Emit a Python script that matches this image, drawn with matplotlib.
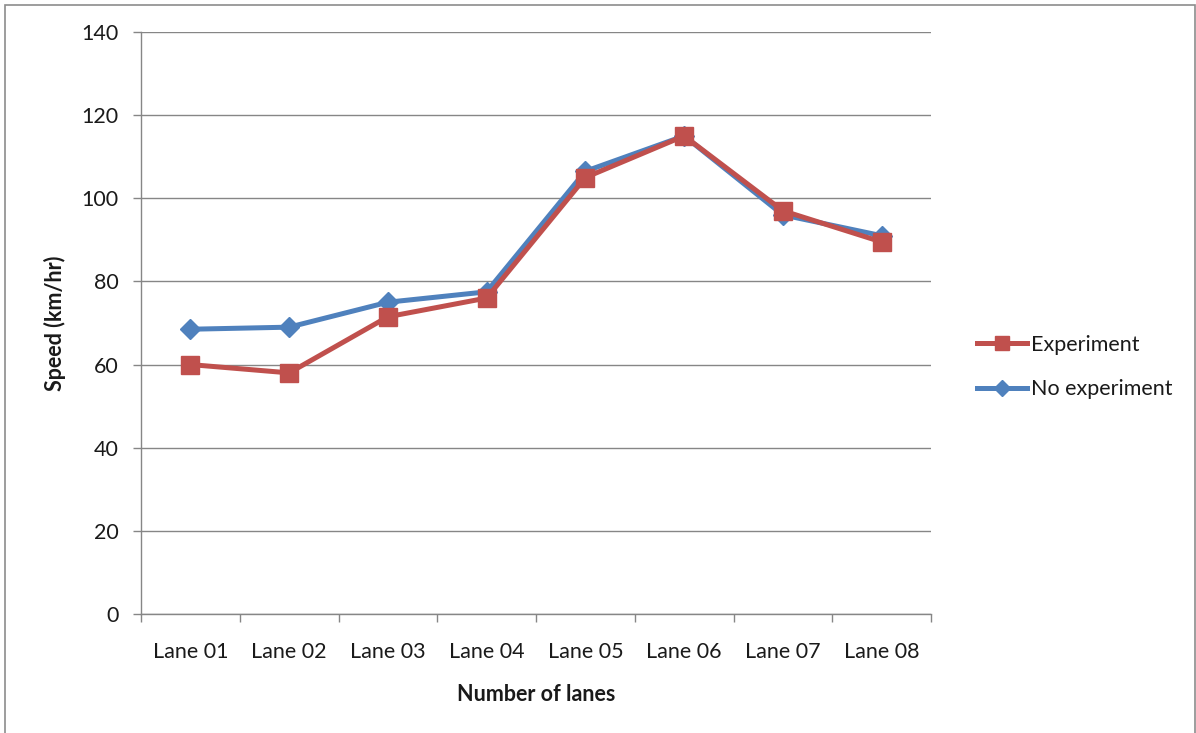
import matplotlib
matplotlib.use("Agg")
import matplotlib.pyplot as plt
from matplotlib.patches import Rectangle
from matplotlib.ticker import FixedLocator, NullFormatter

lanes = ["Lane 01", "Lane 02", "Lane 03", "Lane 04",
         "Lane 05", "Lane 06", "Lane 07", "Lane 08"]
experiment = [60, 58, 71.5, 76, 105, 115, 97, 89.5]
no_experiment = [68.5, 69, 75, 77.5, 106.5, 115, 96, 91]
y_ticks = [0, 20, 40, 60, 80, 100, 120, 140]

RED = "#C0504D"
BLUE = "#4F81BD"
GRID = "#868686"
TEXT = "#1a1a1a"

plt.rcParams["font.family"] = ["Lato", "DejaVu Sans"]

W, H = 1196, 733
fig = plt.figure(figsize=(W / 100, H / 100), dpi=100)
fig.patches.append(Rectangle((5 / W, -0.01), (1195 - 5) / W, (H - 5) / H + 0.01,
                             transform=fig.transFigure, fill=False,
                             edgecolor="#8c8c8c", linewidth=1.2))

ax = fig.add_axes([141 / W, (H - 614) / H, (931 - 141) / W, (614 - 32) / H])

x = list(range(len(lanes)))
h_no, = ax.plot(x, no_experiment, color=BLUE, linewidth=3.6, marker="D",
                markersize=10, markerfacecolor=BLUE, markeredgecolor=BLUE,
                zorder=3, label="No experiment")
h_ex, = ax.plot(x, experiment, color=RED, linewidth=3.6, marker="s",
                markersize=13, markerfacecolor=RED, markeredgecolor=RED,
                zorder=4, label="Experiment")

ax.set_xlim(-0.5, len(lanes) - 0.5)
ax.set_ylim(0, 140)
ax.set_yticks(y_ticks)
ax.yaxis.grid(True, color=GRID, linewidth=1.0)
ax.set_axisbelow(True)

# category boundaries carry the tick marks, labels sit at the centres
ax.xaxis.set_major_locator(FixedLocator([i - 0.5 for i in range(len(lanes) + 1)]))
ax.xaxis.set_major_formatter(NullFormatter())
ax.xaxis.set_minor_locator(FixedLocator(x))
ax.set_xticklabels(lanes, minor=True)
ax.tick_params(axis="x", which="major", length=6, width=1, color=GRID, direction="out")
ax.tick_params(axis="x", which="minor", length=0, pad=20, labelsize=15.5, labelcolor=TEXT)
ax.tick_params(axis="y", length=6, width=1, color=GRID, direction="out",
               labelsize=15.5, labelcolor=TEXT, pad=10)

for side in ("top", "right"):
    ax.spines[side].set_visible(False)
for side in ("left", "bottom"):
    ax.spines[side].set_color(GRID)
    ax.spines[side].set_linewidth(1.0)

ax.set_xlabel("Number of lanes", fontsize=15.5, fontweight="bold", color=TEXT, labelpad=16)
ax.set_ylabel("Speed (km/hr)", fontsize=15.5, fontweight="bold", color=TEXT, labelpad=11)

fig.legend(handles=[h_ex, h_no], loc="center left",
           bbox_to_anchor=(958 / W, 1 - 367 / H), frameon=False,
           fontsize=15.5, handlelength=2.3, handletextpad=0.2, labelspacing=1.15,
           labelcolor=TEXT, markerscale=0.8)

fig.savefig("out.png", dpi=100, facecolor="white")
